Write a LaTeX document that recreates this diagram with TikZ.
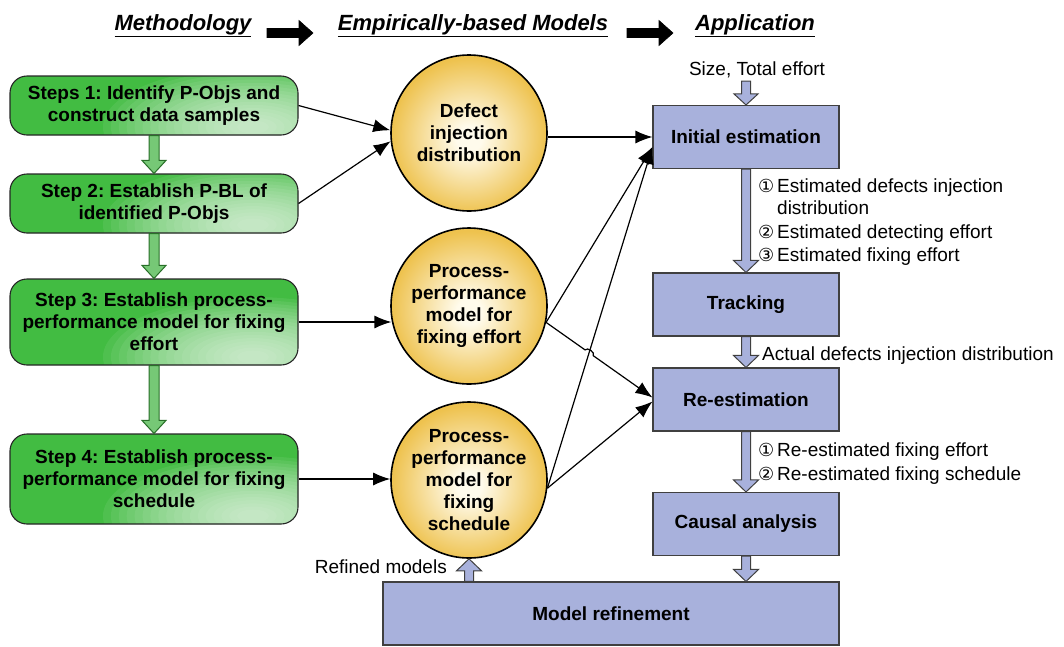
\documentclass[tikz,border=0pt]{standalone}
\usepackage{fontspec}
\setmainfont{Liberation Sans}
\newfontfamily\symfont{DejaVu Sans}
\usetikzlibrary{calc,arrows.meta}

\definecolor{gDark}{RGB}{66,188,66}
\definecolor{gLight}{RGB}{246,253,246}
\definecolor{ballIn}{RGB}{255,251,236}
\definecolor{ballOut}{RGB}{238,194,78}
\definecolor{boxBlue}{RGB}{168,177,220}
\definecolor{arrGreen}{RGB}{118,200,118}
\definecolor{arrGreenEdge}{RGB}{40,110,40}

% golden model balls with a light centre
\pgfdeclareradialshading{ballshade}{\pgfpoint{0bp}{-2bp}}{color(0bp)=(ballIn); color(4bp)=(ballIn); color(25bp)=(ballOut); color(50bp)=(ballOut)}

% block arrow between two points: style, from, to, half shaft, half head, head length
\newcommand\blockarrow[6]{%
  \coordinate (ba-f) at #2;
  \coordinate (ba-t) at #3;
  \coordinate (ba-b) at ($(ba-t)!#6!(ba-f)$);
  \draw[#1] ($(ba-f)!#4!90:(ba-t)$) -- ($(ba-b)!#4!90:(ba-t)$) -- ($(ba-b)!#5!90:(ba-t)$)
    -- (ba-t) -- ($(ba-b)!#5!-90:(ba-t)$) -- ($(ba-b)!#4!-90:(ba-t)$) -- ($(ba-f)!#4!-90:(ba-t)$) -- cycle;}

\newcommand\cnum[1]{\makebox[19pt][l]{\symfont\fontsize{18}{18}\selectfont #1}}

\begin{document}
\frenchspacing
\begin{tikzpicture}[x=1pt,y=-1pt,
  heading/.style={font=\bfseries\itshape\fontsize{22}{26}\selectfont,inner sep=0pt},
  stepbox/.style={draw=black!85,line width=1.1pt,rounded corners=17pt,fill=gDark,
    % soft light glow towards the lower right corner
    path picture={
      \coordinate (glow) at ($(path picture bounding box.south east)+(-45pt,8pt)$);
      \foreach \k in {0,...,17}{
        \pgfmathsetmacro\gf{1-\k/19}
        \fill[gLight,opacity=0.075] (glow) ellipse ({150pt*\gf} and {60pt*\gf});
      }},
    minimum width=288pt,align=center,inner sep=0pt,
    font=\bfseries\fontsize{19}{22}\selectfont},
  ball/.style={circle,draw=black,line width=1.6pt,shade,shading=ballshade,minimum size=156pt,
    inner sep=0pt,align=center,font=\bfseries\fontsize{19}{22}\selectfont},
  appbox/.style={draw=black!75,line width=1.1pt,fill=boxBlue,minimum width=186pt,
    minimum height=63pt,inner sep=0pt,font=\bfseries\fontsize{19}{22}\selectfont},
  conn/.style={line width=1.2pt,-{Latex[length=17pt,width=13pt]}},
  lbl/.style={font=\fontsize{19}{22}\selectfont,inner sep=0pt},
  blackblk/.style={fill=black,draw=black,line width=0.6pt},
  blueblk/.style={fill=boxBlue,draw=black!75,line width=1pt},
  greenblk/.style={fill=arrGreen,draw=arrGreenEdge,line width=1pt}]

\useasboundingbox (0,0) rectangle (1064,646);

% column headings
\node[heading,anchor=base] (h1) at (183,30) {\underline{Methodology}};
\node[heading,anchor=base] (h2) at (473,30) {\underline{Empirically-based Models}};
\node[heading,anchor=base] (h3) at (755,30) {\underline{Application}};
\coordinate (ha1s) at (267,33); \coordinate (ha1e) at (313,33);
\coordinate (ha2s) at (627,33); \coordinate (ha2e) at (673,33);
\blockarrow{blackblk}{(ha1s)}{(ha1e)}{4.5pt}{12.5pt}{14pt}
\blockarrow{blackblk}{(ha2s)}{(ha2e)}{4.5pt}{12.5pt}{14pt}

% methodology steps
\node[stepbox,minimum height=59pt] (s1) at (154,105.5) {Steps 1: Identify P-Objs and\\construct data samples};
\node[stepbox,minimum height=59pt] (s2) at (154,203.5) {Step 2: Establish P-BL of\\identified P-Objs};
\node[stepbox,minimum height=86pt] (s3) at (154,322) {Step 3: Establish process-\\performance model for fixing\\effort};
\node[stepbox,minimum height=90pt] (s4) at (154,479) {Step 4: Establish process-\\performance model for fixing\\schedule};
\blockarrow{greenblk}{(s1.south)}{(s2.north)}{5pt}{12pt}{13pt}
\blockarrow{greenblk}{(s2.south)}{(s3.north)}{5pt}{12pt}{13pt}
\blockarrow{greenblk}{(s3.south)}{(s4.north)}{5pt}{12pt}{13pt}

% models
\node[ball] (c1) at (469,133) {Defect\\injection\\distribution};
\node[ball] (c2) at (469,306) {Process-\\performance\\model for\\fixing effort};
\node[ball] (c3) at (469,480) {Process-\\performance\\model for\\fixing\\schedule};

% application stages
\node[appbox] (ie) at (746,137) {Initial estimation};
\node[appbox] (tr) at (746,304.5) {Tracking};
\node[appbox] (re) at (746,399.5) {Re-estimation};
\node[appbox] (ca) at (746,524) {Causal analysis};
\node[appbox,minimum width=456pt] (mr) at (611,613.5) {Model refinement};

% inputs and outputs between stages
\node[lbl,anchor=base] (size) at (757,75) {Size, Total effort};
\coordinate (sizeTop) at (746,81);
\blockarrow{blueblk}{(sizeTop)}{(ie.north)}{4.5pt}{12pt}{11pt}
\blockarrow{blueblk}{(ie.south)}{(tr.north)}{4.5pt}{12.5pt}{12pt}
\blockarrow{blueblk}{(tr.south)}{(re.north)}{4.5pt}{12.5pt}{12pt}
\blockarrow{blueblk}{(re.south)}{(ca.north)}{4.5pt}{12.5pt}{12pt}
\blockarrow{blueblk}{(ca.south)}{(ca.south |- mr.north)}{4.5pt}{12.5pt}{12pt}
\blockarrow{blueblk}{(c3.south |- mr.north)}{(c3.south)}{4.5pt}{12.5pt}{12pt}

\node[lbl,anchor=base west] (o1) at (758,192) {\cnum{①}Estimated defects injection};
\node[lbl,anchor=base west] (o1b) at (777,214) {distribution};
\node[lbl,anchor=base west] (o2) at (758,238) {\cnum{②}Estimated detecting effort};
\node[lbl,anchor=base west] (o3) at (758,261) {\cnum{③}Estimated fixing effort};
\node[lbl,anchor=base west] (act) at (762,360) {Actual defects injection distribution};
\node[lbl,anchor=base west] (r1) at (758,456) {\cnum{①}Re-estimated fixing effort};
\node[lbl,anchor=base west] (r2) at (758,480) {\cnum{②}Re-estimated fixing schedule};
\node[lbl,anchor=base east] (rm) at (447,573) {Refined models};

% connectors
\draw[conn] (s1.east) -- (c1.178);
\draw[conn] (s2.east) -- (c1.186);
\draw[conn] (s3.east) -- (c2.190 |- s3.east);
\draw[conn] (s4.east) -- (c3.west |- s4.east);
\draw[conn] (c1.east |- ie.west) -- (ie.west);

\coordinate (c2o) at (c2.-12);
\coordinate (c3o) at (c3.-6);
\coordinate (ieL) at ($(ie.west)+(0,10)$);
\coordinate (reU) at ($(re.west)+(0,-2)$);
\coordinate (reD) at ($(re.west)+(0,2)$);
\coordinate (hop) at (intersection of c2o--reU and c3o--ieL);

\draw[conn] (c2o) -- (ieL);
\draw[conn] (c3o) -- (ieL);
\draw[conn] (c3o) -- (reD);
\draw[conn] (c2o) -- ($(hop)!5pt!(c2o)$) to[bend left=90] ($(hop)!5pt!(reU)$) -- (reU);

\end{tikzpicture}
\end{document}
